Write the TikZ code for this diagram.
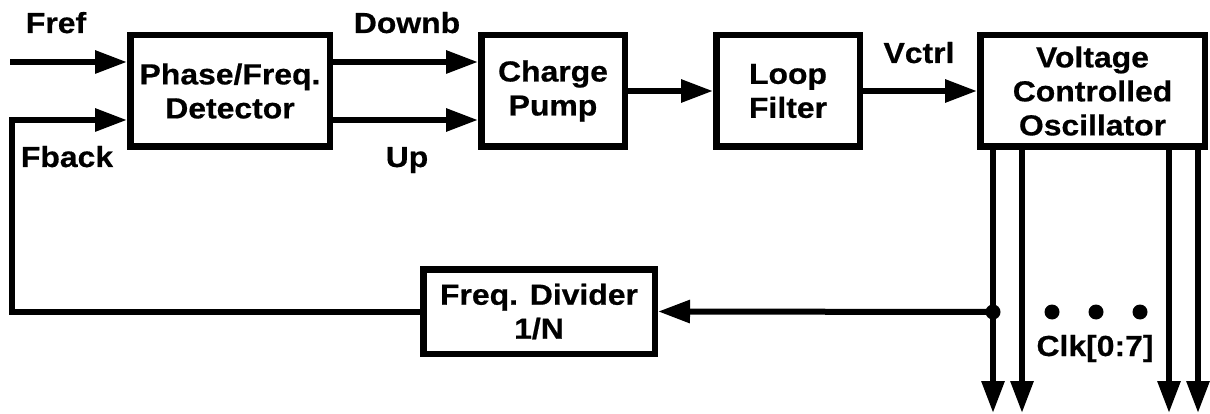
\documentclass[tikz,border=0pt]{standalone}
\usepackage{fontspec}
\setmainfont[FakeStretch=1.1, BoldFeatures={FakeBold=0.6}]{Liberation Sans}
\usetikzlibrary{arrows.meta}
\tikzset{
  blk/.style={draw, line width=6.5pt, rectangle, inner sep=0pt, align=center,
    font=\fontsize{29}{34}\selectfont\bfseries},
  wire/.style={line width=6pt},
  sig/.style={wire, -{Triangle[length=32pt,width=22pt]}},
  lbl/.style={inner sep=0pt, anchor=base, font=\fontsize{29}{34}\selectfont\bfseries},
  junc/.style={circle, fill=black, inner sep=0pt, minimum size=15pt}
}
\begin{document}
\begin{tikzpicture}[x=1pt,y=-1pt]
\useasboundingbox (0,0) rectangle (1210,414);
% blocks
\node[blk, minimum width=199.5pt, minimum height=111.5pt] (pfd) at (230,91) {\fontsize{29}{31}\selectfont Phase/Freq.\\Detector};
\node[blk, minimum width=143.5pt, minimum height=111.5pt] (cp) at (553,91) {Charge\\Pump};
\node[blk, minimum width=143.5pt, minimum height=111.5pt] (lf) at (788,91) {Loop\\Filter};
\node[blk, minimum width=224.5pt, minimum height=111.5pt] (vco) at (1092.5,91) {Voltage\\Controlled\\Oscillator};
\node[blk, minimum width=231.5pt, minimum height=84.5pt] (div) at (539,311.5) {Freq. Divider\\1/N};
% coordinates
\coordinate (fin) at (10,62);
\coordinate (fbc) at (12,120);
\coordinate (dn) at (0,62);
\coordinate (upc) at (0,120);
\coordinate (o1) at (993,413);
\coordinate (o2) at (1022,413);
\coordinate (o3) at (1169,413);
\coordinate (o4) at (1198,413);
\node[junc] (dot) at (993,312) {};
\node[junc] (d1) at (1052,312) {};
\node[junc] (d2) at (1096,312) {};
\node[junc] (d3) at (1140,312) {};
% connectors
\draw[sig] (fin) -- (pfd.west |- fin);
\draw[sig] (div.west) -| (fbc) -- (pfd.west |- fbc);
\draw[sig] (pfd.east |- dn) -- (cp.west |- dn);
\draw[sig] (pfd.east |- upc) -- (cp.west |- upc);
\draw[sig] (cp.east) -- (lf.west);
\draw[sig] (lf.east) -- (vco.west);
\draw[sig] (vco.south -| o1) -- (o1);
\draw[sig] (vco.south -| o2) -- (o2);
\draw[sig] (vco.south -| o3) -- (o3);
\draw[sig] (vco.south -| o4) -- (o4);
\draw[sig] (dot.center) -- (div.east);
% labels
\node[lbl] (lfref) at (56,33) {Fref};
\node[lbl] (ldownb) at (407,33) {Downb};
\node[lbl] (lfback) at (67,167) {Fback};
\node[lbl] (lup) at (407,167) {Up};
\node[lbl] (lvctrl) at (919,63) {Vctrl};
\node[lbl] (lclk) at (1095,356) {Clk[0:7]};
\end{tikzpicture}
\end{document}
